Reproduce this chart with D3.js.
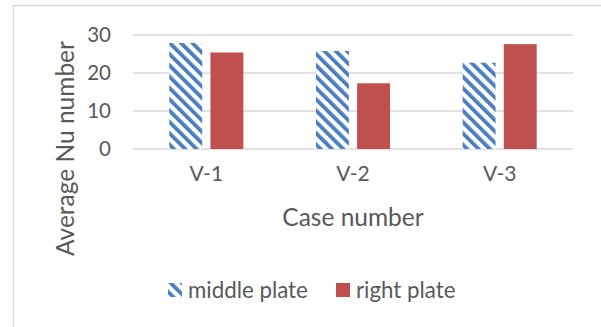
<!DOCTYPE html>
<html>
<head>
<meta charset="utf-8">
<script src="https://cdn.jsdelivr.net/npm/d3@7/dist/d3.min.js"></script>
<style>
  html, body { margin: 0; padding: 0; background: #fff; }
  svg { display: block; }
  text { font-family: Lato, "Open Sans", sans-serif; fill: #595959; }
</style>
</head>
<body>
<script>
// Average Nusselt number per case, two plates
const categories = ["V-1", "V-2", "V-3"];
const seriesNames = ["middle plate", "right plate"];
const middlePlate = [27.9, 25.8, 22.7];
const rightPlate = [25.4, 17.3, 27.6];
const yTicks = [0, 10, 20, 30];

const W = 601, H = 327;
const margin = { left: 133, right: 28, top: 35, bottom: 178 };

const svg = d3.select("body").append("svg")
  .attr("width", W).attr("height", H);

// hatched fill for the middle plate series
const defs = svg.append("defs");
const pat = defs.append("pattern")
  .attr("id", "hatch")
  .attr("patternUnits", "userSpaceOnUse")
  .attr("width", 8).attr("height", 8)
  .attr("patternTransform", "rotate(-45)");
pat.append("rect").attr("width", 8).attr("height", 8).attr("fill", "#fff");
pat.append("rect").attr("x", 0).attr("width", 3.8).attr("height", 8).attr("fill", "#4a7ebf");

const fills = ["url(#hatch)", "#c0504d"];

// chart frame
svg.append("rect")
  .attr("x", 13.5).attr("y", 5.5)
  .attr("width", W).attr("height", H)
  .attr("fill", "none").attr("stroke", "#d9d9d9").attr("stroke-width", 1.5);

const x0 = d3.scaleBand()
  .domain(categories)
  .range([margin.left, W - margin.right])
  .paddingInner(0.495)
  .paddingOuter(0.2475);

const x1 = d3.scaleBand()
  .domain(seriesNames)
  .range([0, x0.bandwidth()])
  .paddingInner(0.2);

const y = d3.scaleLinear()
  .domain([0, 30])
  .range([H - margin.bottom, margin.top]);

// gridlines
svg.append("g")
  .selectAll("line")
  .data(yTicks)
  .join("line")
  .attr("x1", margin.left).attr("x2", W - margin.right)
  .attr("y1", d => y(d)).attr("y2", d => y(d))
  .attr("stroke", "#d9d9d9").attr("stroke-width", 1.3);

// y axis labels
const yAxis = d3.axisLeft(y).tickValues(yTicks).tickSize(0).tickPadding(0);
const yg = svg.append("g")
  .attr("transform", `translate(${margin.left - 22},0)`)
  .call(yAxis);
yg.select(".domain").remove();
yg.selectAll("text")
  .attr("font-size", 20.5)
  .attr("font-family", "Lato, sans-serif")
  .attr("fill", "#595959");

// bars
const data = categories.map((c, i) => ({ cat: c, values: [middlePlate[i], rightPlate[i]] }));
const groups = svg.append("g")
  .selectAll("g")
  .data(data)
  .join("g")
  .attr("transform", d => `translate(${x0(d.cat)},0)`);

groups.selectAll("rect")
  .data(d => d.values.map((v, j) => ({ name: seriesNames[j], v, j })))
  .join("rect")
  .attr("x", d => x1(d.name))
  .attr("width", x1.bandwidth())
  .attr("y", d => y(d.v))
  .attr("height", d => y(0) - y(d.v))
  .attr("fill", d => fills[d.j]);

// x axis labels
const xAxis = d3.axisBottom(x0).tickSize(0).tickPadding(0);
const xg = svg.append("g")
  .attr("transform", `translate(0,${y(0) + 17})`)
  .call(xAxis);
xg.select(".domain").remove();
xg.selectAll("text")
  .attr("font-size", 21)
  .attr("font-family", "Lato, sans-serif")
  .attr("fill", "#595959");

// axis titles
svg.append("text")
  .attr("x", (margin.left + W - margin.right) / 2)
  .attr("y", 226)
  .attr("text-anchor", "middle")
  .attr("font-size", 24.5)
  .text("Case number");

svg.append("text")
  .attr("transform", `translate(73.5,148.5) rotate(-90)`)
  .attr("text-anchor", "middle")
  .attr("font-size", 24.5)
  .text("Average Nu number");

// legend
const legendItems = [
  { name: seriesNames[0], fill: fills[0], x: 168 },
  { name: seriesNames[1], fill: fills[1], x: 336 }
];
const lg = svg.append("g").selectAll("g")
  .data(legendItems)
  .join("g")
  .attr("transform", d => `translate(${d.x},283)`);
lg.append("rect")
  .attr("width", 14).attr("height", 14)
  .attr("fill", d => d.fill);
lg.append("text")
  .attr("x", 20).attr("y", 14.5)
  .attr("font-size", 22.3)
  .text(d => d.name);
</script>
</body>
</html>
